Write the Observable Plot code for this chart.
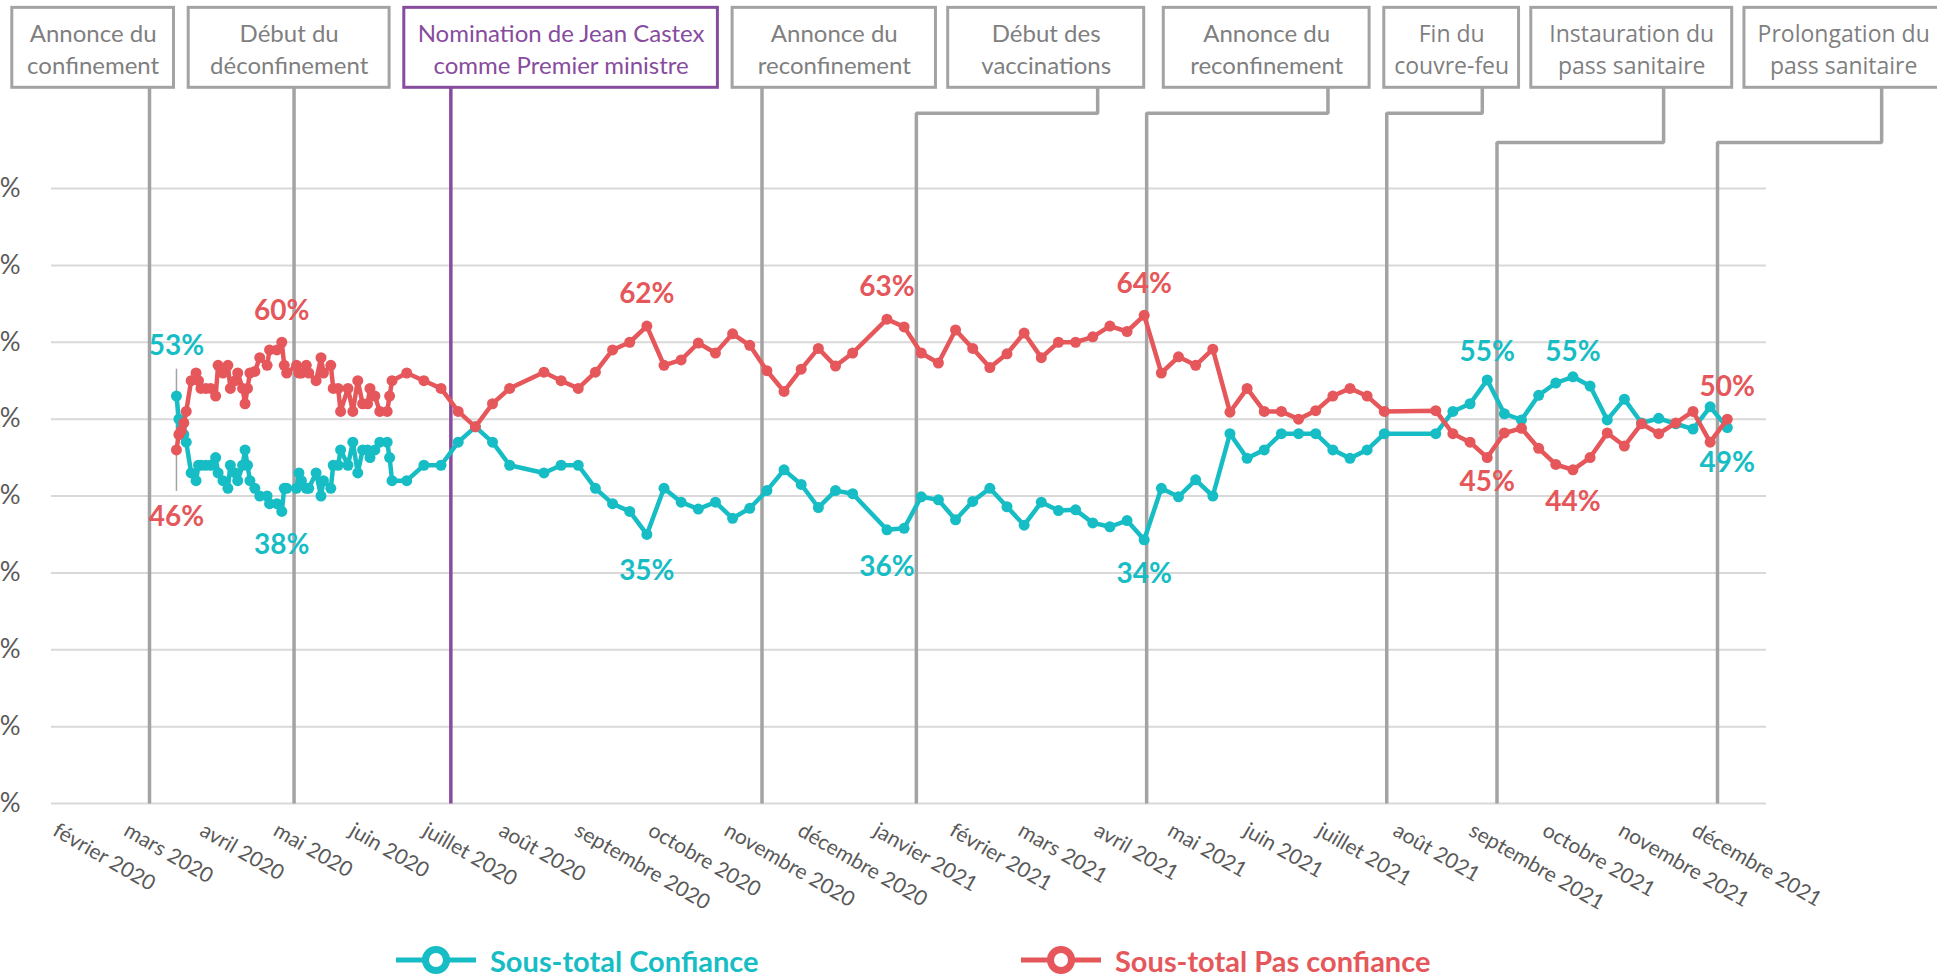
<!DOCTYPE html>
<html><head><meta charset="utf-8">
<script src="https://cdn.jsdelivr.net/npm/d3@7"></script>
<script src="https://cdn.jsdelivr.net/npm/@observablehq/plot@0.6"></script>
<style>
body{margin:0;background:#fff;overflow:hidden;}
#legend{position:relative;height:47px;font-family:Lato,sans-serif;font-weight:bold;font-size:29px;}
.item{position:absolute;top:0;height:60px;display:flex;align-items:center;white-space:nowrap;}
.item span{margin-left:14px;}
</style></head><body><div id="chart"></div><div id="legend"></div>
<script>
// ---------- DATA ----------
const dates = [
"2020-03-23","2020-03-24","2020-03-25","2020-03-26","2020-03-27","2020-03-29","2020-03-31","2020-04-01","2020-04-02","2020-04-04",
"2020-04-06","2020-04-08","2020-04-09","2020-04-11","2020-04-13","2020-04-14","2020-04-16","2020-04-17","2020-04-19","2020-04-20",
"2020-04-21","2020-04-22","2020-04-24","2020-04-26","2020-04-29","2020-04-30","2020-05-03","2020-05-05","2020-05-06","2020-05-07",
"2020-05-11","2020-05-12","2020-05-13","2020-05-15","2020-05-16","2020-05-19","2020-05-21","2020-05-22","2020-05-25","2020-05-26",
"2020-05-28","2020-05-29","2020-06-01","2020-06-03","2020-06-05","2020-06-07","2020-06-09","2020-06-10","2020-06-12","2020-06-14",
"2020-06-17","2020-06-18","2020-06-19","2020-06-25","2020-07-02","2020-07-09","2020-07-16","2020-07-23","2020-07-30","2020-08-06",
"2020-08-20","2020-08-27","2020-09-03","2020-09-10","2020-09-17","2020-09-24","2020-10-01","2020-10-08","2020-10-15","2020-10-22",
"2020-10-29","2020-11-05","2020-11-12","2020-11-19","2020-11-26","2020-12-03","2020-12-10","2020-12-17","2020-12-24","2021-01-07",
"2021-01-14","2021-01-21","2021-01-28","2021-02-04","2021-02-11","2021-02-18","2021-02-25","2021-03-04","2021-03-11","2021-03-18",
"2021-03-25","2021-04-01","2021-04-08","2021-04-15","2021-04-22","2021-04-29","2021-05-06","2021-05-13","2021-05-20","2021-05-27",
"2021-06-03","2021-06-10","2021-06-17","2021-06-24","2021-07-01","2021-07-08","2021-07-15","2021-07-22","2021-07-29","2021-08-19",
"2021-08-26","2021-09-02","2021-09-09","2021-09-16","2021-09-23","2021-09-30","2021-10-07","2021-10-14","2021-10-21","2021-10-28",
"2021-11-04","2021-11-11","2021-11-18","2021-11-25","2021-12-02","2021-12-09","2021-12-16"
];
const confiance = [
53,50,49,48,47,43,42,44,44,44,
44,45,43,42,41,44,43,42,44,46,
44,42,41,40,40,39,39,38,41,41,
41,43,42,41,41,43,40,42,41,44,
44,46,44,47,43,46,46,45,46,47,
47,45,42,42,44,44,47,49,47,44,
43,44,44,41,39,38,35,41,39.2,38.3,
39.2,37.1,38.4,40.7,43.4,41.5,38.5,40.7,40.3,35.6,
35.8,39.9,39.5,36.9,39.3,41,38.6,36.2,39.2,38.1,
38.2,36.5,36,36.8,34.3,41,39.9,42.1,40,48.1,
44.9,46,48.1,48.1,48.1,46,44.9,46,48.1,48.1,
51,52,55.1,50.7,49.9,53.1,54.7,55.5,54.3,49.9,
52.6,49.5,50.1,49.4,48.7,51.6,48.9
];
const pasConfiance = [
46,48,48.5,49.5,51,55,56,55,54,54,
54,53,57,56,57,54,55,56,54,52,
54,56,56.2,58,57,59,59,60,57,56,
57,56,56,57,56,55,58,56,57,54,
54,51,54,51,55,52,52,54,53,51,
51,53,55,56,55,54,51,49,52,54,
56.1,55,54,56.1,59,60,62.1,57,57.7,59.9,
58.6,61.1,59.6,56.3,53.6,56.5,59.2,56.9,58.6,63,
62,58.6,57.3,61.6,59.2,56.7,58.5,61.2,58,60,
60,60.7,62.1,61.4,63.5,56,58.1,57,59.1,50.9,
54,51,51,50,51.1,53,54,53,51,51.1,
48.1,47,45,48.2,48.8,46.2,44.1,43.4,45,48.2,
46.5,49.4,48.1,49.5,51,47,50
];
const seriesNames = ["Sous-total Confiance","Sous-total Pas confiance"];
const monthNames = ["janvier","février","mars","avril","mai","juin","juillet","août","septembre","octobre","novembre","décembre"];
const yTicks = [0,10,20,30,40,50,60,70,80];

// value labels
const labelDates  = ["2020-03-23","2020-03-23","2020-05-05","2020-05-05","2020-10-01","2020-10-01","2021-01-07","2021-01-07","2021-04-22","2021-04-22","2021-09-09","2021-09-09","2021-10-14","2021-10-14","2021-12-16","2021-12-16"];
const labelSeries = [0,1,1,0,1,0,1,0,1,0,0,1,0,1,1,0];
const labelTexts  = ["53%","46%","60%","38%","62%","35%","63%","36%","64%","34%","55%","45%","55%","44%","50%","49%"];

// events
const eventLabels = ["Annonce du\nconfinement","Début du\ndéconfinement","Nomination de Jean Castex\ncomme Premier ministre","Annonce du\nreconfinement","Début des\nvaccinations","Annonce du\nreconfinement","Fin du\ncouvre-feu","Instauration du\npass sanitaire","Prolongation du\npass sanitaire"];
const eventDates    = ["2020-03-12","2020-05-10","2020-07-13","2020-11-17","2021-01-19","2021-04-23","2021-07-30","2021-09-13","2021-12-12"];
const eventBoxStart = ["2020-01-16","2020-03-28","2020-06-24","2020-11-05","2021-02-01","2021-04-30","2021-07-29","2021-09-27","2021-12-23"];
const eventBoxEnd   = ["2020-03-22","2020-06-18","2020-10-30","2021-01-27","2021-04-22","2021-07-23","2021-09-22","2021-12-18","2022-03-14"];
const eventAttach   = [null,null,null,null,"2021-04-03","2021-07-06","2021-09-07","2021-11-20","2022-02-17"];
const eventElbow    = [null,null,null,null,89.8,89.8,89.8,86.0,86.0];

// ---------- LAYOUT / STYLE ----------
const W = 1937, H = 930;
const teal = "#17BDC4", red = "#E5575A", purple = "#874C9E", gray = "#A3A3A3";
const BOX_TOP = 103.5, BOX_BOTTOM = 93.1;
const pxPerUnit = (803 - 188) / 80;

const parse = d3.utcParse("%Y-%m-%d");
const rows = dates.map((d, i) => ({date: parse(d), conf: confiance[i], pas: pasConfiance[i]}));
const months = d3.utcMonth.range(parse("2020-02-01"), parse("2021-12-02"));
const frMonth = d => monthNames[d.getUTCMonth()] + " " + d.getUTCFullYear();

const events = eventLabels.map((label, i) => {
  const x1 = parse(eventBoxStart[i]), x2 = parse(eventBoxEnd[i]);
  return {label, i, line: parse(eventDates[i]), x1, x2, xm: new Date((+x1 + +x2) / 2),
    attach: eventAttach[i] ? parse(eventAttach[i]) : null, elbow: eventElbow[i],
    castex: i === 2, font: i < 6 ? "Lato" : "Open Sans"};
});
const connectors = events.flatMap(e => e.attach
  ? [{id: e.i, c: e.castex, x: e.line, y: 0}, {id: e.i, c: e.castex, x: e.line, y: e.elbow}, {id: e.i, c: e.castex, x: e.attach, y: e.elbow}, {id: e.i, c: e.castex, x: e.attach, y: BOX_BOTTOM}]
  : [{id: e.i, c: e.castex, x: e.line, y: 0}, {id: e.i, c: e.castex, x: e.line, y: BOX_BOTTOM}]);

const labelOffsetPx = [-50, 67, -31, 34, -32, 37, -32, 37, -31, 34, -28, 24, -25, 32, -32, 35];
const labels = labelDates.map((d, i) => {
  const row = rows.find(r => +r.date === +parse(d));
  const v = labelSeries[i] === 0 ? row.conf : row.pas;
  return {date: parse(d), y: v - labelOffsetPx[i] / pxPerUnit, text: labelTexts[i], s: labelSeries[i]};
});

const chart = Plot.plot({
  width: W, height: H,
  marginLeft: 51, marginRight: 171, marginTop: 188, marginBottom: H - 803,
  x: {type: "utc", domain: [parse("2020-02-01"), parse("2022-01-01")], axis: null},
  y: {domain: [0, 80], axis: null},
  style: {fontFamily: "Lato", background: "#fff", overflow: "visible"},
  marks: [
    Plot.ruleY(yTicks, {y: d => d, stroke: "#D9D9D9", strokeWidth: 2}),
    Plot.text(yTicks, {y: d => d, frameAnchor: "left", textAnchor: "end", dx: -31, text: d => d + "%", fontSize: 26, fill: "#595959"}),
    Plot.text(months, {x: d => d, frameAnchor: "bottom", dy: 31, rotate: 30, textAnchor: "start", text: frMonth, fontSize: 21, fill: "#595959"}),
    Plot.line(connectors.filter(d => !d.c), {x: "x", y: "y", z: "id", stroke: gray, strokeWidth: 3.5, strokeLinejoin: "miter", strokeLinecap: "butt"}),
    Plot.line(connectors.filter(d => d.c), {x: "x", y: "y", z: "id", stroke: purple, strokeWidth: 3.5, strokeLinecap: "butt"}),
    Plot.rect(events.filter(e => !e.castex), {x1: "x1", x2: "x2", y1: BOX_BOTTOM, y2: BOX_TOP, fill: "white", stroke: gray, strokeWidth: 3}),
    Plot.rect(events.filter(e => e.castex), {x1: "x1", x2: "x2", y1: BOX_BOTTOM, y2: BOX_TOP, fill: "white", stroke: purple, strokeWidth: 3}),
    Plot.text(events.filter(e => e.font === "Lato" && !e.castex), {x: "xm", y: (BOX_TOP + BOX_BOTTOM) / 2, text: "label", fontSize: 24, lineHeight: 1.33, fill: "#7F7F7F", fontFamily: "Lato"}),
    Plot.text(events.filter(e => e.castex), {x: "xm", y: (BOX_TOP + BOX_BOTTOM) / 2, text: "label", fontSize: 24, lineHeight: 1.33, fill: purple, fontFamily: "Lato"}),
    Plot.text(events.filter(e => e.font === "Open Sans"), {x: "xm", y: (BOX_TOP + BOX_BOTTOM) / 2, text: "label", fontSize: 23, lineHeight: 1.37, fill: "#7F7F7F", fontFamily: "Open Sans"}),
    Plot.ruleX([rows[0]], {x: "date", y1: 40.6, y2: 56.5, stroke: gray, strokeWidth: 1.5}),
    Plot.line(rows, {x: "date", y: "conf", stroke: teal, strokeWidth: 4.5}),
    Plot.dot(rows, {x: "date", y: "conf", fill: teal, r: 5.5}),
    Plot.line(rows, {x: "date", y: "pas", stroke: red, strokeWidth: 4.5}),
    Plot.dot(rows, {x: "date", y: "pas", fill: red, r: 5.5}),
    Plot.text(labels, {x: "date", y: "y", text: "text", fill: d => d.s === 0 ? teal : red, fontSize: 28, fontWeight: "bold", fontFamily: "Lato"})
  ]
});
document.getElementById("chart").append(chart);

// legend
const legend = document.getElementById("legend");
[[seriesNames[0], teal, 396], [seriesNames[1], red, 1021]].forEach(([name, color, left]) => {
  const item = document.createElement("div");
  item.className = "item";
  item.style.left = left + "px";
  item.innerHTML = `<svg width="80" height="32"><line x1="0" x2="80" y1="16" y2="16" stroke="${color}" stroke-width="5"/><circle cx="40" cy="16" r="10.5" fill="white" stroke="${color}" stroke-width="7"/></svg><span style="color:${color}">${name}</span>`;
  legend.append(item);
});
</script></body></html>
